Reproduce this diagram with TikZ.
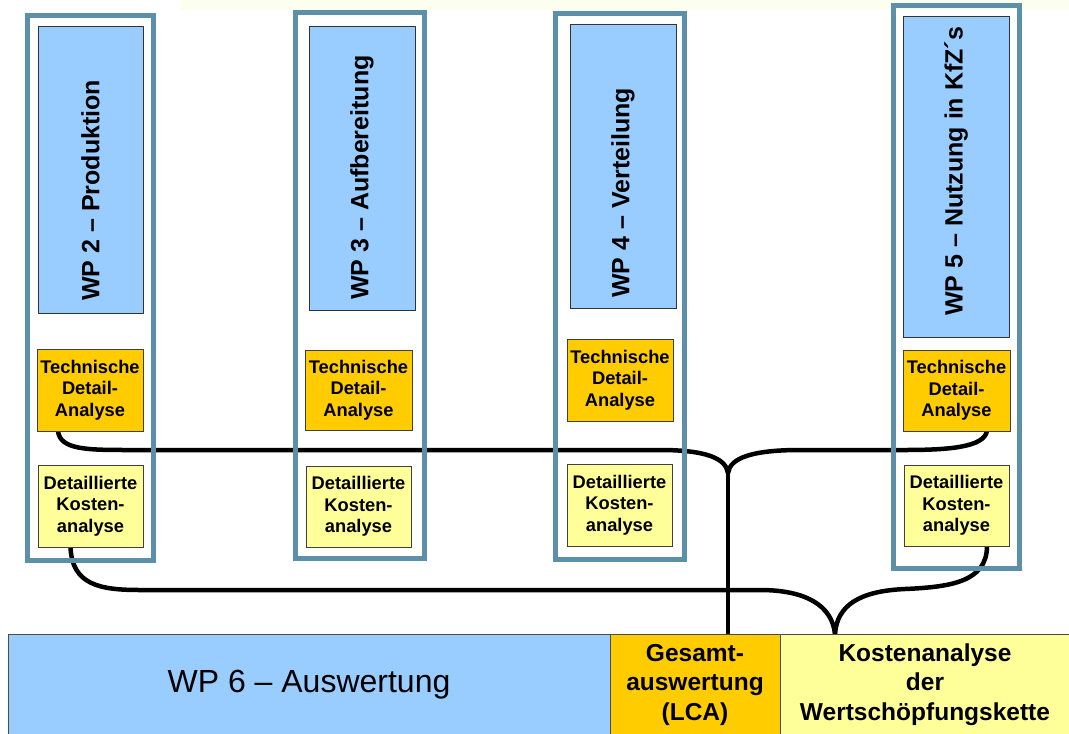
\documentclass[tikz,border=0pt]{standalone}
\usepackage{fontspec}
\setmainfont{Liberation Sans}
\usetikzlibrary{calc,backgrounds}
\definecolor{frameC}{HTML}{5B90A8}
\definecolor{wpblue}{HTML}{99CCFF}
\definecolor{tdorange}{HTML}{FFCC00}
\definecolor{kyellow}{HTML}{FFFF99}
\definecolor{paleband}{HTML}{FCFFF0}
\begin{document}
\begin{tikzpicture}[x=1pt,y=-1pt,
  wpframe/.style={draw=frameC, line width=5pt, inner sep=0pt, outer sep=0pt},
  wpbox/.style={draw=black!80, line width=1pt, fill=wpblue, inner sep=0pt, outer sep=0pt},
  tdbox/.style={draw=black!75, line width=1pt, fill=tdorange, inner sep=0pt, outer sep=0pt, align=center, font=\fontsize{18.3}{21.5}\selectfont\bfseries},
  kbox/.style={draw=black!75, line width=1pt, fill=kyellow, inner sep=0pt, outer sep=0pt, align=center, font=\fontsize{18.3}{21.5}\selectfont\bfseries},
  vtext/.style={rotate=90, anchor=west, inner sep=0pt, font=\fontsize{25}{30}\selectfont\bfseries},
  barbox/.style={draw=black!70, line width=1pt, inner sep=0pt, outer sep=0pt, align=center, minimum height=101pt},
  conn/.style={line width=4.5pt, black}
]
\useasboundingbox (0,0) rectangle (1069,734);
\fill[paleband] (180,0) rectangle (1069,10);

% outer frames
\node[wpframe, minimum width=126pt, minimum height=545pt] (f1) at (90.5,288) {};
\node[wpframe, minimum width=129pt, minimum height=546pt] (f2) at (360,285.5) {};
\node[wpframe, minimum width=129pt, minimum height=546pt] (f3) at (620,286) {};
\node[wpframe, minimum width=126pt, minimum height=563pt] (f4) at (956.5,287) {};

% WP boxes
\node[wpbox, minimum width=105pt, minimum height=287pt] (b1) at (90.5,169.5) {};
\node[wpbox, minimum width=106pt, minimum height=284pt] (b2) at (362,168) {};
\node[wpbox, minimum width=106pt, minimum height=284pt] (b3) at (623,166) {};
\node[wpbox, minimum width=106pt, minimum height=321pt] (b4) at (956,176.5) {};

\node[vtext] (l1) at (90.5,301) {WP 2 – Produktion};
\node[vtext] (l2) at (362,300) {WP 3 – Aufbereitung};
\node[vtext] (l3) at (623,298) {WP 4 – Verteilung};
\node[vtext] (l4) at (956,316) {WP 5 – Nutzung in KfZ´s};

% technical analysis boxes
\node[tdbox, minimum width=106pt, minimum height=82pt] (t1) at (90,390) {Technische\\Detail-\\Analyse};
\node[tdbox, minimum width=107pt, minimum height=80pt] (t2) at (358.5,390) {Technische\\Detail-\\Analyse};
\node[tdbox, minimum width=106pt, minimum height=82pt] (t3) at (620,380) {Technische\\Detail-\\Analyse};
\node[tdbox, minimum width=107pt, minimum height=81pt] (t4) at (956.5,390.5) {Technische\\Detail-\\Analyse};

% cost boxes
\node[kbox, minimum width=105pt, minimum height=82pt] (k1) at (90.5,506) {Detaillierte\\Kosten-\\analyse};
\node[kbox, minimum width=105pt, minimum height=81pt] (k2) at (358.5,506.5) {Detaillierte\\Kosten-\\analyse};
\node[kbox, minimum width=105pt, minimum height=82pt] (k3) at (619.5,505) {Detaillierte\\Kosten-\\analyse};
\node[kbox, minimum width=105pt, minimum height=81pt] (k4) at (956.5,505.5) {Detaillierte\\Kosten-\\analyse};

% bottom bar
\node[barbox, fill=wpblue, minimum width=602pt, font=\fontsize{32}{38}\selectfont] (w6) at (309,684.5) {WP 6 – Auswertung};
\node[barbox, fill=tdorange, minimum width=170pt, font=\fontsize{24.5}{29.5}\selectfont\bfseries] (ga) at (695,684.5) {Gesamt-\\auswertung\\(LCA)};
\node[barbox, fill=kyellow, minimum width=290pt, font=\fontsize{24.5}{29.5}\selectfont\bfseries] (kw) at (925,684.5) {Kostenanalyse\\der\\Wertschöpfungskette};

\coordinate (j1) at (728,473);
\coordinate (j2) at ($(kw.north west)+(55,0)$);

\begin{pgfonlayer}{background}
% technical connectors
\draw[conn] ([xshift=-32pt]t1.south) .. controls (60,450) and (88,450) .. (130,450)
  -- (660,450) .. controls (705,450) and (726,458) .. (j1);
\draw[conn] ([xshift=30.5pt]t4.south) .. controls (984,447) and (950,450) .. (905,450)
  -- (800,450) .. controls (752,450) and (730,458) .. (j1);
\draw[conn] (j1) -- (j1 |- ga.north);
% cost connectors
\draw[conn] ([xshift=-20pt]k1.south) .. controls (72,585) and (100,590) .. (140,590)
  -- (760,590) .. controls (805,590) and (832,605) .. (j2);
\draw[conn] ([xshift=30.5pt]k4.south) .. controls (987,582) and (950,587) .. (905,589)
  .. controls (860,591) and (837,605) .. (j2);
\end{pgfonlayer}
\end{tikzpicture}
\end{document}
